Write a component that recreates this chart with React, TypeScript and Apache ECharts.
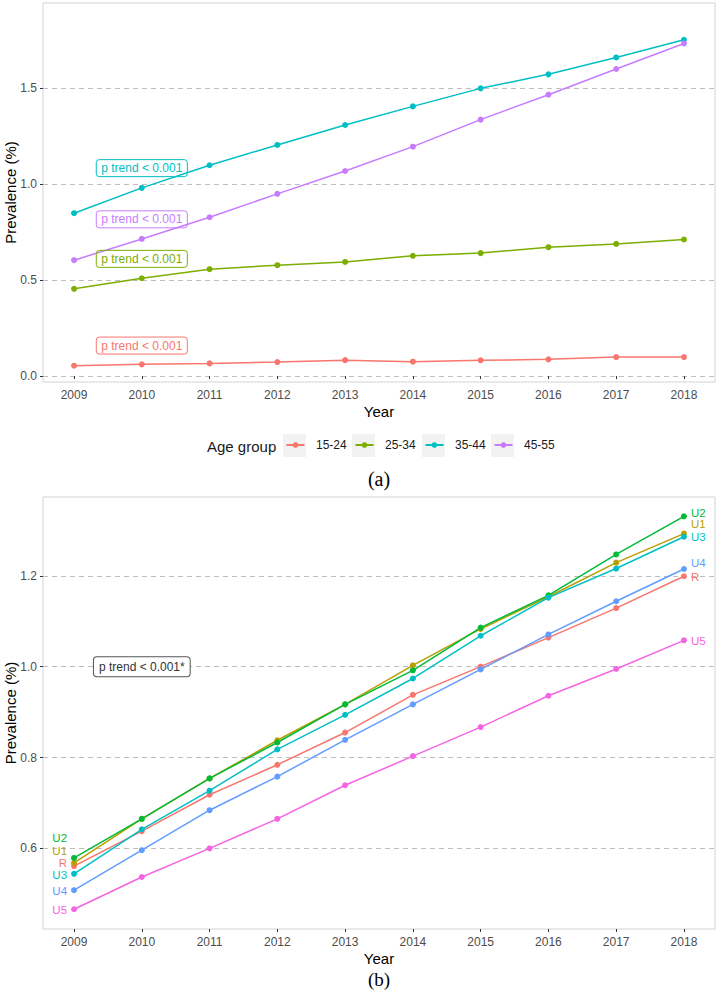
import React, { useEffect, useRef } from "react";
import * as echarts from "echarts";

// ---------- data ----------
const years = [2009, 2010, 2011, 2012, 2013, 2014, 2015, 2016, 2017, 2018];

// Panel (a): prevalence by age group
const ageGroups = ["15-24", "25-34", "35-44", "45-55"];
const age1524 = [0.054, 0.061, 0.066, 0.073, 0.083, 0.075, 0.082, 0.087, 0.099, 0.099];
const age2534 = [0.455, 0.510, 0.557, 0.578, 0.595, 0.627, 0.641, 0.672, 0.689, 0.712];
const age3544 = [0.849, 0.981, 1.099, 1.205, 1.309, 1.406, 1.500, 1.573, 1.661, 1.753];
const age4555 = [0.604, 0.715, 0.828, 0.950, 1.069, 1.196, 1.337, 1.467, 1.601, 1.734];
const ageValues = [age1524, age2534, age3544, age4555];
const ageColors = ["#F8766D", "#7CAE00", "#00BFC4", "#C77CFF"];
const trendLabelText = "p trend < 0.001";
const trendLabelYear = 2010;
const trendLabelA = [0.159, 0.611, 1.084, 0.817];
const yTicksA = [0, 0.5, 1.0, 1.5];

// Panel (b): prevalence by region
const regions = ["R", "U1", "U2", "U3", "U4", "U5"];
const regR = [0.561, 0.638, 0.718, 0.784, 0.855, 0.938, 1.000, 1.064, 1.129, 1.199];
const regU1 = [0.568, 0.665, 0.754, 0.838, 0.917, 1.003, 1.083, 1.154, 1.229, 1.293];
const regU2 = [0.579, 0.665, 0.754, 0.833, 0.917, 0.992, 1.086, 1.157, 1.247, 1.331];
const regU3 = [0.544, 0.642, 0.727, 0.818, 0.894, 0.974, 1.068, 1.152, 1.216, 1.286];
const regU4 = [0.508, 0.596, 0.684, 0.758, 0.839, 0.917, 0.994, 1.071, 1.144, 1.215];
const regU5 = [0.466, 0.537, 0.600, 0.665, 0.739, 0.803, 0.867, 0.936, 0.995, 1.058];
const regionValues = [regR, regU1, regU2, regU3, regU4, regU5];
const regionColors = ["#F8766D", "#B79F00", "#00BA38", "#00BFC4", "#619CFF", "#F564E3"];
const leftLabelY = [0.568, 0.595, 0.622, 0.542, 0.507, 0.464];
const rightLabelY = [1.197, 1.313, 1.339, 1.285, 1.228, 1.056];
const trendLabelB = { text: "p trend < 0.001*", year: 2010, value: 1.0 };
const yTicksB = [0.6, 0.8, 1.0, 1.2];

// ---------- layout ----------
const SANS = "Liberation Sans, Arial, sans-serif";
const SERIF = "Liberation Serif, Times New Roman, serif";
const keyLefts = [283, 352, 422, 491];

export default function App() {
  const ref = useRef<HTMLDivElement>(null);

  useEffect(() => {
    if (!ref.current) return;
    const chart = echarts.init(ref.current, undefined, { renderer: "svg" });

    const xAxisFor = (gridIndex: number) => ({
      type: "value",
      gridIndex,
      min: 2008.542,
      max: 2018.458,
      axisLine: { show: false },
      axisTick: { show: true, customValues: years, length: 3, lineStyle: { color: "#333333", width: 1 } },
      axisLabel: {
        customValues: years,
        formatter: (v: number) => String(v),
        color: "#4D4D4D",
        fontSize: 12,
        margin: 7,
        fontFamily: SANS,
      },
      splitLine: { show: false },
      name: "Year",
      nameLocation: "middle",
      nameGap: 22,
      nameMoveOverlap: false,
      nameTextStyle: { fontSize: 15, color: "#000", fontFamily: SANS },
    });

    const yAxisFor = (gridIndex: number, min: number, max: number, ticks: number[]) => ({
      type: "value",
      gridIndex,
      min,
      max,
      axisLine: { show: false },
      axisTick: { show: true, customValues: ticks, length: 3, lineStyle: { color: "#333333", width: 1 } },
      axisLabel: {
        customValues: ticks,
        formatter: (v: number) => v.toFixed(1),
        color: "#4D4D4D",
        fontSize: 12,
        margin: 6,
        fontFamily: SANS,
      },
      splitLine: { show: true, lineStyle: { type: [5, 4], color: "#BEBEBE", width: 1.1 } },
      name: "Prevalence (%)",
      nameLocation: "middle",
      nameRotate: 90,
      nameGap: 25,
      nameMoveOverlap: false,
      nameTextStyle: { fontSize: 15, color: "#000", fontFamily: SANS },
    });

    const seriesA = ageGroups.map((g, i) => ({
      type: "line",
      name: g,
      xAxisIndex: 0,
      yAxisIndex: 0,
      data: years.map((y, j) => [y, ageValues[i][j]]),
      color: ageColors[i],
      symbol: "circle",
      symbolSize: 6,
      lineStyle: { width: 1.5 },
      z: 3,
      markPoint: {
        symbol: "circle",
        symbolSize: 0,
        silent: true,
        data: [{ coord: [trendLabelYear, trendLabelA[i]] }],
        label: {
          show: true,
          position: "inside",
          formatter: trendLabelText,
          color: ageColors[i],
          fontSize: 12,
          fontFamily: SANS,
          borderColor: ageColors[i],
          borderWidth: 1,
          borderRadius: 3,
          padding: [3, 5, 2, 5],
        },
      },
    }));

    const seriesB = regions.map((r, i) => {
      const mpData: any[] = [
        { coord: [years[0], leftLabelY[i]], label: { position: "left" } },
        { coord: [years[years.length - 1], rightLabelY[i]], label: { position: "right" } },
      ];
      if (i === 0) {
        mpData.push({
          coord: [trendLabelB.year, trendLabelB.value],
          label: {
            position: "inside",
            formatter: trendLabelB.text,
            color: "#333333",
            fontSize: 12,
            lineHeight: 14,
            backgroundColor: "#FFFFFF",
            borderColor: "#555555",
            borderWidth: 1,
            borderRadius: 3,
            padding: [3, 5, 2, 5],
          },
        });
      }
      return {
        type: "line",
        name: r,
        xAxisIndex: 1,
        yAxisIndex: 1,
        data: years.map((y, j) => [y, regionValues[i][j]]),
        color: regionColors[i],
        symbol: "circle",
        symbolSize: 6,
        lineStyle: { width: 1.5 },
        z: 3,
        markPoint: {
          symbol: "circle",
          symbolSize: 0,
          silent: true,
          data: mpData,
          label: {
            show: true,
            formatter: r,
            color: regionColors[i],
            fontSize: 11.5,
            lineHeight: 11,
            fontFamily: SANS,
            distance: 7,
          },
        },
      };
    });

    const gridBase = {
      left: 43,
      width: 672,
      show: true,
      borderColor: "#D3D3D3",
      borderWidth: 1,
      backgroundColor: "#FFFFFF",
      containLabel: false,
      outerBoundsMode: "none",
    };

    const option: any = {
      animation: false,
      backgroundColor: "#FFFFFF",
      textStyle: { fontFamily: SANS },
      grid: [
        { ...gridBase, top: 3, height: 379 },
        { ...gridBase, top: 497, height: 432 },
      ],
      xAxis: [xAxisFor(0), xAxisFor(1)],
      yAxis: [yAxisFor(0, -0.031, 1.945, yTicksA), yAxisFor(1, 0.4225, 1.3735, yTicksB)],
      legend: ageGroups.map((g, i) => ({
        data: [g],
        left: keyLefts[i] + 2.5,
        top: 439,
        padding: 0,
        itemGap: 0,
        itemWidth: 18,
        itemHeight: 7,
        selectedMode: false,
        textStyle: { fontSize: 12, color: "#1A1A1A", fontFamily: SANS, padding: [0, 0, 0, 6.5] },
      })),
      graphic: [
        ...keyLefts.map((x) => ({
          type: "rect",
          shape: { x, y: 434, width: 23, height: 23 },
          style: { fill: "#F2F2F2" },
          z: 0,
          silent: true,
        })),
        {
          type: "text",
          x: 207,
          y: 446,
          style: { text: "Age group", fontSize: 15, fontFamily: SANS, fill: "#1A1A1A", verticalAlign: "middle" },
        },
        {
          type: "text",
          x: 379,
          y: 479,
          style: { text: "(a)", fontSize: 20, fontFamily: SERIF, fill: "#000", align: "center", verticalAlign: "middle" },
        },
        {
          type: "text",
          x: 379,
          y: 979,
          style: { text: "(b)", fontSize: 19, fontFamily: SERIF, fill: "#000", align: "center", verticalAlign: "middle" },
        },
      ],
      series: [...seriesA, ...seriesB],
    };

    chart.setOption(option);
    return () => chart.dispose();
  }, []);

  return (
    <div
      ref={ref}
      style={{ position: "fixed", left: 0, top: 0, width: 718, height: 991, background: "#fff" }}
    />
  );
}
